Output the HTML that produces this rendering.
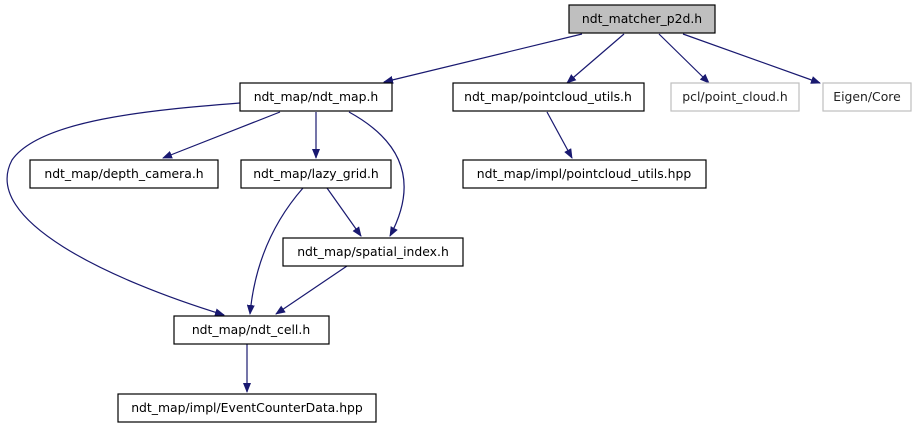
<!DOCTYPE html>
<html><head><meta charset="utf-8"><style>body{margin:0;background:#fff}text{font-family:"DejaVu Sans","Liberation Sans",sans-serif;font-size:12.4px;text-anchor:middle}</style></head><body>
<svg width="919" height="427" xmlns="http://www.w3.org/2000/svg">
<defs><marker id="a" markerWidth="10" markerHeight="8" refX="9" refY="4" orient="auto" markerUnits="userSpaceOnUse"><path d="M0,0L10,4L0,8z" fill="#191970"/></marker></defs>
<g fill="none" stroke="#191970" stroke-width="1.2" marker-end="url(#a)">
<path d="M582,34L384,82"/>
<path d="M624,34L567,83"/>
<path d="M659,34L709,83"/>
<path d="M683,34L820,83"/>
<path d="M280,112L163,158"/>
<path d="M316,112L316,158"/>
<path d="M349,112C400,140 420,180 390,236"/>
<path d="M240,103C150,110 40,120 12,160C-20,220 110,280 224,315"/>
<path d="M327,188L361,236"/>
<path d="M303,188C275,220 255,260 250,314"/>
<path d="M347,266L276,314"/>
<path d="M547,112L572,158"/>
<path d="M247,344L247,392"/>
</g>
<g stroke-width="1.2">
<rect x="569" y="5" width="146" height="28" fill="#bfbfbf" stroke="#000"/>
<rect x="240" y="83" width="152" height="28" fill="#fff" stroke="#000"/>
<rect x="453" y="83" width="191" height="28" fill="#fff" stroke="#000"/>
<rect x="671" y="83" width="128" height="28" fill="#fff" stroke="#bfbfbf"/>
<rect x="823" y="83" width="88" height="28" fill="#fff" stroke="#bfbfbf"/>
<rect x="30" y="160" width="188" height="28" fill="#fff" stroke="#000"/>
<rect x="241" y="160" width="150" height="28" fill="#fff" stroke="#000"/>
<rect x="463" y="160" width="243" height="28" fill="#fff" stroke="#000"/>
<rect x="283" y="238" width="180" height="28" fill="#fff" stroke="#000"/>
<rect x="174" y="316" width="155" height="28" fill="#fff" stroke="#000"/>
<rect x="118" y="394" width="258" height="28" fill="#fff" stroke="#000"/>
</g>
<text x="642" y="23">ndt_matcher_p2d.h</text>
<text x="316" y="101">ndt_map/ndt_map.h</text>
<text x="548" y="101">ndt_map/pointcloud_utils.h</text>
<text x="735" y="101" fill="#222">pcl/point_cloud.h</text>
<text x="867" y="101" fill="#222">Eigen/Core</text>
<text x="124" y="178">ndt_map/depth_camera.h</text>
<text x="316" y="178">ndt_map/lazy_grid.h</text>
<text x="584" y="178">ndt_map/impl/pointcloud_utils.hpp</text>
<text x="373" y="256">ndt_map/spatial_index.h</text>
<text x="251" y="334">ndt_map/ndt_cell.h</text>
<text x="247" y="412">ndt_map/impl/EventCounterData.hpp</text>
</svg>
</body></html>
